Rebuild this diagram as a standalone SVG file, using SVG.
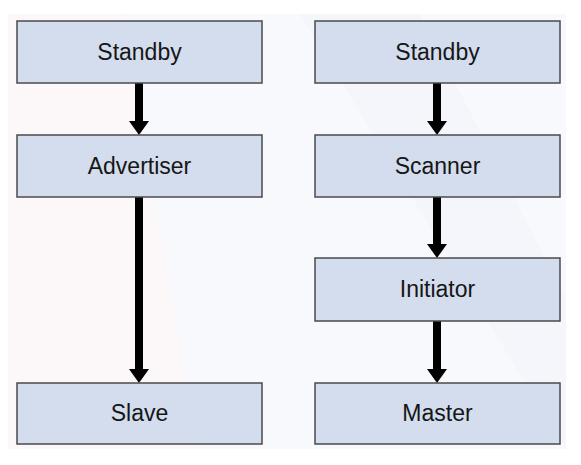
<svg xmlns="http://www.w3.org/2000/svg" width="581" height="465" viewBox="0 0 581 465">
<style>
.box{fill:#d3dded;stroke:#4a4a4a;stroke-width:1.5}
.lbl{font-family:"Liberation Sans",Arial,sans-serif;font-size:23px;fill:#161616;text-anchor:middle}
.shaft{stroke:#000;stroke-width:8;fill:none}
.head{fill:#000}
</style>
<rect x="0" y="0" width="581" height="465" fill="#fff"/>
<rect x="8" y="14" width="558" height="435" fill="#f8f9fc"/>
<path d="M8 14 L120 14 L200 449 L8 449 Z" fill="#fdf6f6" opacity="0.7"/>
<path d="M300 14 L420 14 L566 300 L566 449 Z" fill="#f3f5fa" opacity="0.8"/>
<g id="connectors">
<line class="shaft" x1="139" y1="83" x2="139" y2="124"/>
<polygon class="head" points="129,121 149,121 139,135"/>
<line class="shaft" x1="139" y1="197" x2="139" y2="372"/>
<polygon class="head" points="129,369 149,369 139,383"/>
<line class="shaft" x1="437" y1="83" x2="437" y2="124"/>
<polygon class="head" points="427,121 447,121 437,135"/>
<line class="shaft" x1="437" y1="197" x2="437" y2="247"/>
<polygon class="head" points="427,244 447,244 437,258"/>
<line class="shaft" x1="437" y1="321" x2="437" y2="372"/>
<polygon class="head" points="427,369 447,369 437,383"/>
</g>
<g id="l-standby"><rect class="box" x="17" y="21" width="245" height="62"/><text class="lbl" x="139.5" y="60">Standby</text></g>
<g id="advertiser"><rect class="box" x="17" y="135" width="245" height="62"/><text class="lbl" x="139.5" y="174">Advertiser</text></g>
<g id="slave"><rect class="box" x="17" y="383" width="245" height="61"/><text class="lbl" x="139.5" y="421">Slave</text></g>
<g id="r-standby"><rect class="box" x="315" y="21" width="245" height="62"/><text class="lbl" x="437.5" y="60">Standby</text></g>
<g id="scanner"><rect class="box" x="315" y="135" width="245" height="62"/><text class="lbl" x="437.5" y="174">Scanner</text></g>
<g id="initiator"><rect class="box" x="315" y="258" width="245" height="63"/><text class="lbl" x="437.5" y="297">Initiator</text></g>
<g id="master"><rect class="box" x="315" y="383" width="245" height="61"/><text class="lbl" x="437.5" y="421">Master</text></g>
</svg>
